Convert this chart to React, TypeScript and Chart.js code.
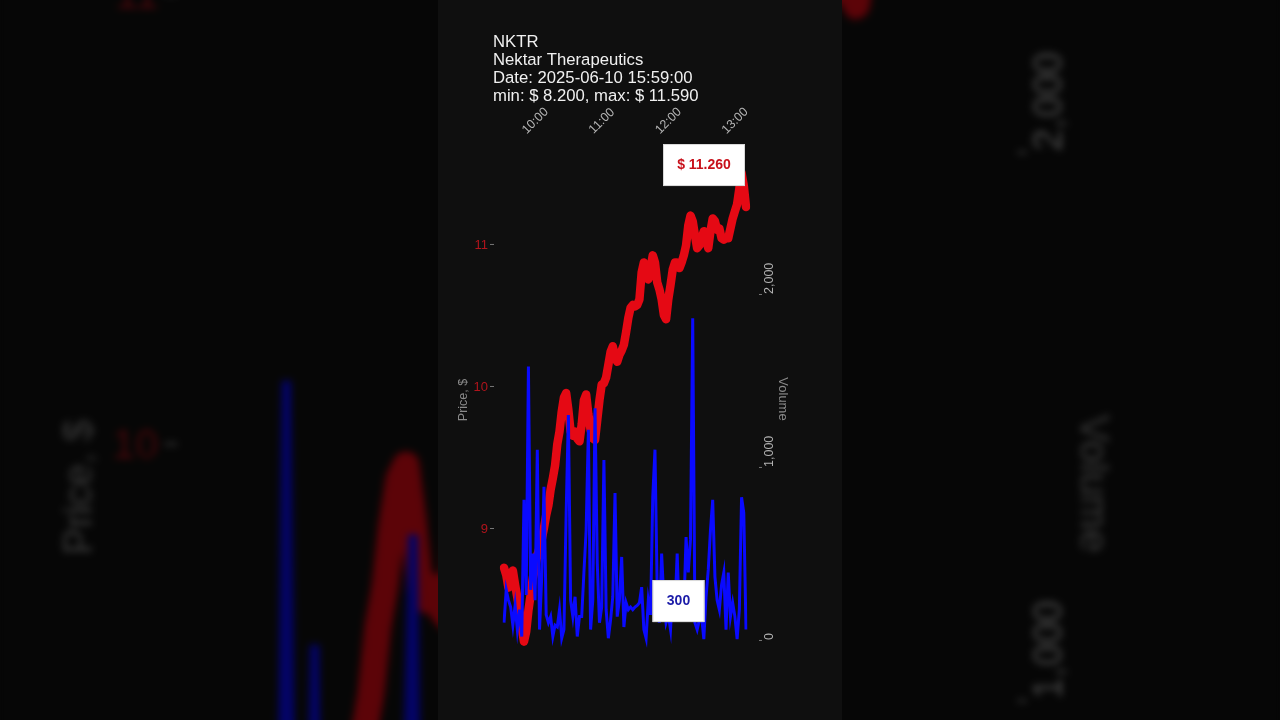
import { useEffect, useRef } from "react";
import { Chart, registerables } from "chart.js";

Chart.register(...registerables);

// 2-minute bars, 09:30 .. 13:08
const times = [
  "09:30", "09:32", "09:34", "09:36", "09:38", "09:40", "09:42", "09:44", "09:46", "09:48",
  "09:50", "09:52", "09:54", "09:56", "09:58", "10:00", "10:02", "10:04", "10:06", "10:08",
  "10:10", "10:12", "10:14", "10:16", "10:18", "10:20", "10:22", "10:24", "10:26", "10:28",
  "10:30", "10:32", "10:34", "10:36", "10:38", "10:40", "10:42", "10:44", "10:46", "10:48",
  "10:50", "10:52", "10:54", "10:56", "10:58", "11:00", "11:02", "11:04", "11:06", "11:08",
  "11:10", "11:12", "11:14", "11:16", "11:18", "11:20", "11:22", "11:24", "11:26", "11:28",
  "11:30", "11:32", "11:34", "11:36", "11:38", "11:40", "11:42", "11:44", "11:46", "11:48",
  "11:50", "11:52", "11:54", "11:56", "11:58", "12:00", "12:02", "12:04", "12:06", "12:08",
  "12:10", "12:12", "12:14", "12:16", "12:18", "12:20", "12:22", "12:24", "12:26", "12:28",
  "12:30", "12:32", "12:34", "12:36", "12:38", "12:40", "12:42", "12:44", "12:46", "12:48",
  "12:50", "12:52", "12:54", "12:56", "12:58", "13:00", "13:02", "13:04", "13:06", "13:08",
];

const prices = [
  8.72, 8.67, 8.58, 8.65, 8.7, 8.6, 8.51, 8.41, 8.3, 8.2,
  8.27, 8.42, 8.53, 8.65, 8.72, 8.81, 8.86, 8.92, 9.0, 9.09,
  9.16, 9.27, 9.35, 9.44, 9.59, 9.68, 9.82, 9.92, 9.95, 9.83,
  9.68, 9.65, 9.68, 9.63, 9.61, 9.73, 9.9, 9.94, 9.8, 9.69,
  9.63, 9.62, 9.76, 9.9, 10.01, 10.02, 10.06, 10.15, 10.24, 10.28,
  10.2, 10.17, 10.22, 10.25, 10.29, 10.38, 10.48, 10.55, 10.57, 10.56,
  10.57, 10.61, 10.8, 10.87, 10.83, 10.75, 10.83, 10.92, 10.87, 10.73,
  10.68, 10.61, 10.5, 10.47, 10.61, 10.71, 10.82, 10.87, 10.87, 10.83,
  10.87, 10.92, 10.99, 11.13, 11.2, 11.16, 11.06, 10.97, 10.99, 11.04,
  11.09, 11.03, 10.97, 11.09, 11.18, 11.16, 11.1, 11.11, 11.04, 11.03,
  11.04, 11.04, 11.11, 11.18, 11.23, 11.28, 11.39, 11.5, 11.41, 11.26,
];

const volumes = [
  100, 290, 230, 190, 85, 200, 60, 175, 20, 810,
  260, 1580, 290, 500, 230, 1100, 60, 365, 885, 145,
  100, 135, 20, 85, 75, 175, 10, 60, 735, 1300,
  230, 135, 250, 20, 135, 135, 390, 635, 1215, 60,
  230, 1340, 445, 100, 190, 1040, 175, 10, 115, 250,
  850, 135, 230, 480, 75, 215, 175, 190, 175, 190,
  200, 215, 305, 60, 10, 230, 145, 825, 1100, 290,
  100, 500, 230, 100, 145, 60, 290, 175, 500, 115,
  250, 175, 595, 390, 580, 1860, 100, 60, 115, 135,
  5, 250, 405, 635, 810, 365, 230, 175, 320, 390,
  60, 390, 135, 215, 135, 5, 175, 825, 735, 60,
];

const timeTicks = ["10:00", "11:00", "12:00", "13:00"];
const priceTicks = [9, 10, 11];
const volumeTicks = [0, 1000, 2000];

const titleLines = [
  "NKTR",
  "Nektar Therapeutics",
  "Date: 2025-06-10 15:59:00",
  "min: $ 8.200, max: $ 11.590",
];
const priceLabel = "$ 11.260";
const volumeLabel = "300";

const FONT = '"Liberation Sans", Arial, sans-serif';
const W = 404;
const H = 720;

const drawBox = (
  ctx: CanvasRenderingContext2D,
  cx: number,
  cy: number,
  w: number,
  h: number,
  text: string,
  color: string,
) => {
  ctx.fillStyle = "#ffffff";
  ctx.fillRect(cx - w / 2, cy - h / 2, w, h);
  ctx.strokeStyle = "#d8d8d8";
  ctx.lineWidth = 1;
  ctx.strokeRect(cx - w / 2 + 0.5, cy - h / 2 + 0.5, w - 1, h - 1);
  ctx.fillStyle = color;
  ctx.font = `bold 14px ${FONT}`;
  ctx.textAlign = "center";
  ctx.textBaseline = "middle";
  ctx.fillText(text, cx, cy + 0.5);
};

// all the text (title, ticks, axis names, value boxes) drawn from the scales
const panelText = {
  id: "panelText",
  afterDatasetsDraw(chart: any) {
    const { ctx, chartArea, scales } = chart;
    const x = scales.x;
    const yp = scales.yp;
    const yv = scales.yv;
    ctx.save();

    ctx.fillStyle = "#f0f0f0";
    ctx.font = `16.7px ${FONT}`;
    ctx.textAlign = "left";
    ctx.textBaseline = "middle";
    titleLines.forEach((line, i) => ctx.fillText(line, 55, 42 + i * 18));

    // time ticks on top, rotated
    ctx.fillStyle = "#b4b4b4";
    ctx.font = `12.5px ${FONT}`;
    timeTicks.forEach((t) => {
      const px = x.getPixelForValue(times.indexOf(t));
      ctx.save();
      ctx.translate(px - 2, 121);
      ctx.rotate(-Math.PI / 4);
      ctx.textAlign = "center";
      ctx.textBaseline = "middle";
      ctx.fillText(t, 0, 0);
      ctx.restore();
    });

    // price ticks (left)
    priceTicks.forEach((p) => {
      const py = yp.getPixelForValue(p);
      ctx.fillStyle = "#b0141c";
      ctx.font = `13px ${FONT}`;
      ctx.textAlign = "right";
      ctx.textBaseline = "middle";
      ctx.fillText(String(p), 50, py + 1);
      ctx.strokeStyle = "#777777";
      ctx.lineWidth = 1;
      ctx.beginPath();
      ctx.moveTo(52, py + 0.5);
      ctx.lineTo(56, py + 0.5);
      ctx.stroke();
    });

    // volume ticks (right), text reads upwards
    volumeTicks.forEach((v) => {
      const py = yv.getPixelForValue(v);
      ctx.strokeStyle = "#777777";
      ctx.lineWidth = 1;
      ctx.beginPath();
      ctx.moveTo(321, py + 0.5);
      ctx.lineTo(324, py + 0.5);
      ctx.stroke();
      ctx.save();
      ctx.translate(332, py);
      ctx.rotate(-Math.PI / 2);
      ctx.fillStyle = "#b4b4b4";
      ctx.font = `12.5px ${FONT}`;
      ctx.textAlign = "left";
      ctx.textBaseline = "middle";
      ctx.fillText(v.toLocaleString("en-US"), 0, 0);
      ctx.restore();
    });

    // axis titles
    ctx.fillStyle = "#8a8a8a";
    ctx.font = `12.5px ${FONT}`;
    ctx.textAlign = "center";
    ctx.textBaseline = "middle";
    ctx.save();
    ctx.translate(26, 400);
    ctx.rotate(-Math.PI / 2);
    ctx.fillText("Price, $", 0, 0);
    ctx.restore();
    ctx.save();
    ctx.translate(345, 399);
    ctx.rotate(Math.PI / 2);
    ctx.font = `13px ${FONT}`;
    ctx.fillText("Volume", 0, 0);
    ctx.restore();

    // value boxes
    const last = prices.length - 1;
    drawBox(
      ctx,
      x.getPixelForValue(last) - 42,
      yp.getPixelForValue(prices[last]) - 42,
      82,
      42,
      priceLabel,
      "#c8101a",
    );
    drawBox(
      ctx,
      chartArea.right - 67.5,
      yv.getPixelForValue(Number(volumeLabel)) + 13,
      52,
      42,
      volumeLabel,
      "#1c1ca8",
    );

    ctx.restore();
  },
};

const Panel = () => {
  const canvasRef = useRef<HTMLCanvasElement>(null);

  useEffect(() => {
    if (!canvasRef.current) return;
    const chart = new Chart(canvasRef.current, {
      type: "line",
      data: {
        labels: times,
        datasets: [
          {
            label: "Volume",
            data: volumes,
            yAxisID: "yv",
            borderColor: "#0a0aff",
            borderWidth: 3,
            pointRadius: 0,
            tension: 0,
          },
          {
            label: "Price",
            data: prices,
            yAxisID: "yp",
            borderColor: "#e50914",
            borderWidth: 8.5,
            borderCapStyle: "round",
            borderJoinStyle: "round",
            pointRadius: 0,
            tension: 0,
          },
        ],
      },
      options: {
        responsive: false,
        animation: false,
        devicePixelRatio: 1,
        layout: { padding: { left: 66, right: 96, top: 140, bottom: 70 } },
        plugins: { legend: { display: false }, tooltip: { enabled: false } },
        scales: {
          x: { type: "category", display: false },
          yp: { type: "linear", display: false, min: 8.141, max: 11.732 },
          yv: { type: "linear", display: false, min: -58, max: 2890 },
        },
      },
      plugins: [panelText],
    });
    return () => chart.destroy();
  }, []);

  return <canvas ref={canvasRef} width={W} height={H} style={{ display: "block" }} />;
};

const App = () => {
  useEffect(() => {
    document.body.style.margin = "0";
    document.body.style.background = "#000";
  }, []);

  return (
    <div
      style={{
        position: "relative",
        width: 1280,
        height: 720,
        overflow: "hidden",
        background: "#050505",
      }}
    >
      {/* blurred, darkened copy filling the frame */}
      <div
        style={{
          position: "absolute",
          left: 438,
          top: 0,
          width: W,
          height: H,
          background: "#0f0f0f",
          transform: "scale(3.17)",
          transformOrigin: "202px 360px",
          filter: "blur(1.2px) brightness(0.4)",
        }}
      >
        <Panel />
      </div>
      <div
        style={{
          position: "absolute",
          left: 438,
          top: 0,
          width: W,
          height: H,
          background: "#0f0f0f",
        }}
      >
        <Panel />
      </div>
    </div>
  );
};

export default App;
